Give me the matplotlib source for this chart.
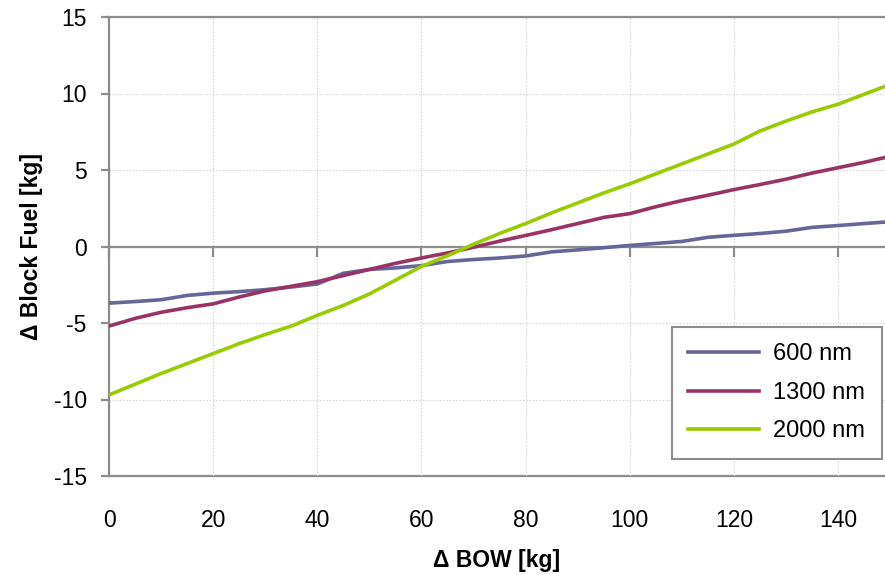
import numpy as np
import matplotlib
matplotlib.use('Agg')
import matplotlib.pyplot as plt

plt.rcParams['font.family'] = ['Liberation Sans', 'DejaVu Sans']
plt.rcParams['axes.unicode_minus'] = False

# Data (every 5 kg)
bow = [0, 5, 10, 15, 20, 25, 30, 35, 40, 45, 50, 55, 60, 65, 70, 75,
       80, 85, 90, 95, 100, 105, 110, 115, 120, 125, 130, 135, 140, 145, 150]
fuel_600 = [-3.7, -3.6, -3.48, -3.2, -3.05, -2.95, -2.82, -2.65, -2.45, -1.75, -1.5,
            -1.4, -1.25, -0.98, -0.85, -0.75, -0.62, -0.35, -0.22, -0.08, 0.07,
            0.2, 0.33, 0.6, 0.73, 0.85, 1.0, 1.25, 1.37, 1.5, 1.62]
fuel_1300 = [-5.2, -4.7, -4.3, -4.0, -3.75, -3.3, -2.9, -2.6, -2.3, -1.9, -1.5,
             -1.1, -0.75, -0.42, -0.05, 0.35, 0.72, 1.1, 1.5, 1.9, 2.15,
             2.6, 3.0, 3.35, 3.72, 4.05, 4.4, 4.8, 5.15, 5.5, 5.9]
fuel_2000 = [-9.7, -9.0, -8.3, -7.65, -7.0, -6.35, -5.75, -5.2, -4.5, -3.85, -3.1,
             -2.2, -1.3, -0.6, 0.15, 0.85, 1.5, 2.2, 2.85, 3.5, 4.1,
             4.75, 5.4, 6.05, 6.7, 7.55, 8.2, 8.8, 9.3, 9.95, 10.6]
labels = ['600 nm', '1300 nm', '2000 nm']
colors = ['#666699', '#993366', '#99CC00']
xticks = [0, 20, 40, 60, 80, 100, 120, 140]
yticks = [-15, -10, -5, 0, 5, 10, 15]

axis_grey = '#8c8c8c'

fig = plt.figure(figsize=(8.85, 5.75), dpi=100)
ax = fig.add_axes([109 / 885, 99 / 575, 776 / 885, 459 / 575])

for ys, lab, col in zip([fuel_600, fuel_1300, fuel_2000], labels, colors):
    ax.plot(bow, ys, color=col, lw=2.6, label=lab, zorder=3)

ax.set_xlim(0, 149)
ax.set_ylim(-15, 15)
ax.set_xticks(xticks)
ax.set_yticks(yticks)
ax.grid(True, color='#d8d8d8', linestyle=(0, (1.5, 1.5)), lw=0.8)

# horizontal axis crosses at zero, ticks pointing down, no labels there
ax.spines['bottom'].set_position(('data', 0))
for side in ['left', 'top', 'bottom']:
    ax.spines[side].set_color(axis_grey)
    ax.spines[side].set_linewidth(1.6)
    ax.spines[side].set_zorder(2.5)
ax.spines['right'].set_visible(False)

ax.tick_params(axis='y', direction='out', length=6, width=1.6, color=axis_grey,
               labelsize=16.5, pad=10)
ax.tick_params(axis='x', direction='out', length=7, width=1.6, color=axis_grey,
               labelbottom=False)

# frame line at the bottom carries the tick labels
bottom_ax = ax.secondary_xaxis('bottom')
bottom_ax.set_xticks(xticks)
bottom_ax.tick_params(length=0, labelsize=16.5, pad=24)
bottom_ax.spines['bottom'].set_color(axis_grey)
bottom_ax.spines['bottom'].set_linewidth(1.6)

ax.set_xlabel('Δ BOW [kg]', fontsize=16.5, fontweight='bold')
ax.xaxis.set_label_coords(0.5, -0.16)
ax.set_ylabel('Δ Block Fuel [kg]', fontsize=16.5, fontweight='bold')
ax.yaxis.set_label_coords(-0.085, 0.5)

leg = ax.legend(loc='lower right', bbox_to_anchor=(0.996, 0.037), borderaxespad=0,
                fontsize=17, handlelength=3.0, labelspacing=0.7, fancybox=False,
                framealpha=1, borderpad=0.7, handletextpad=0.6)
leg.get_frame().set_edgecolor(axis_grey)
leg.get_frame().set_linewidth(1.5)
for line in leg.get_lines():
    line.set_linewidth(2.6)

fig.savefig('out.png', dpi=100)
